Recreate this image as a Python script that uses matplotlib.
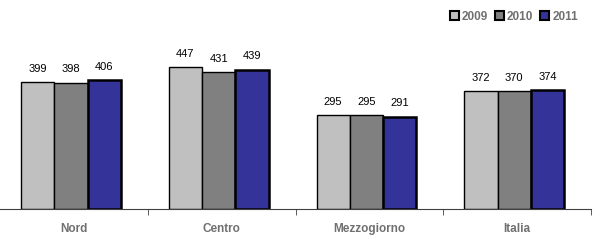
import matplotlib.pyplot as plt
from matplotlib.patches import Patch
import numpy as np

plt.rcParams['font.family'] = ['Liberation Sans', 'DejaVu Sans']

regions = ['Nord', 'Centro', 'Mezzogiorno', 'Italia']
years = ['2009', '2010', '2011']
v2009 = [399, 447, 295, 372]
v2010 = [398, 431, 295, 370]
v2011 = [406, 439, 291, 374]
colors = ['#C0C0C0', '#808080', '#333399']

fig = plt.figure(figsize=(6.1, 2.46), dpi=100)
ax = fig.add_axes([0, 1 - 209/246, 591/610, 209/246])

x = np.arange(len(regions))
w = 0.225
series = [v2009, v2010, v2011]
for i, vals in enumerate(series):
    lw = 1.8 if i == 2 else 1.0
    bars = ax.bar(x + (i - 1) * w - 0.02, vals, w, color=colors[i], edgecolor='black', linewidth=lw)
    for b, v in zip(bars, vals):
        ax.annotate(str(v), (b.get_x() + b.get_width() / 2, v), xytext=(0, 6),
                    textcoords='offset points', ha='center', va='bottom', fontsize=8)

ax.set_xlim(-0.5, 3.5)
ax.set_ylim(0, 658)
for s in ['top', 'right', 'left']:
    ax.spines[s].set_visible(False)
ax.spines['bottom'].set_color('#404040')
ax.set_yticks([])
ax.set_xticks(x)
ax.set_xticklabels(regions, fontsize=8.5, fontweight='bold', color='#707070')
ax.tick_params(axis='x', which='major', length=0, pad=10)
ax.set_xticks(np.arange(0.5, 4, 1), minor=True)
ax.tick_params(axis='x', which='minor', length=4, color='#404040')

handles = [Patch(facecolor=c, edgecolor='black', linewidth=1.5) for c in colors]
leg = fig.legend(handles, years, loc='upper right', bbox_to_anchor=(0.965, 1.0), ncol=3,
                 frameon=False, handlelength=0.75, handleheight=0.75, handletextpad=0.25,
                 columnspacing=0.6, prop={'size': 8.5, 'weight': 'bold'})
for t in leg.get_texts():
    t.set_color('#707070')

fig.savefig('out.png', dpi=100)
